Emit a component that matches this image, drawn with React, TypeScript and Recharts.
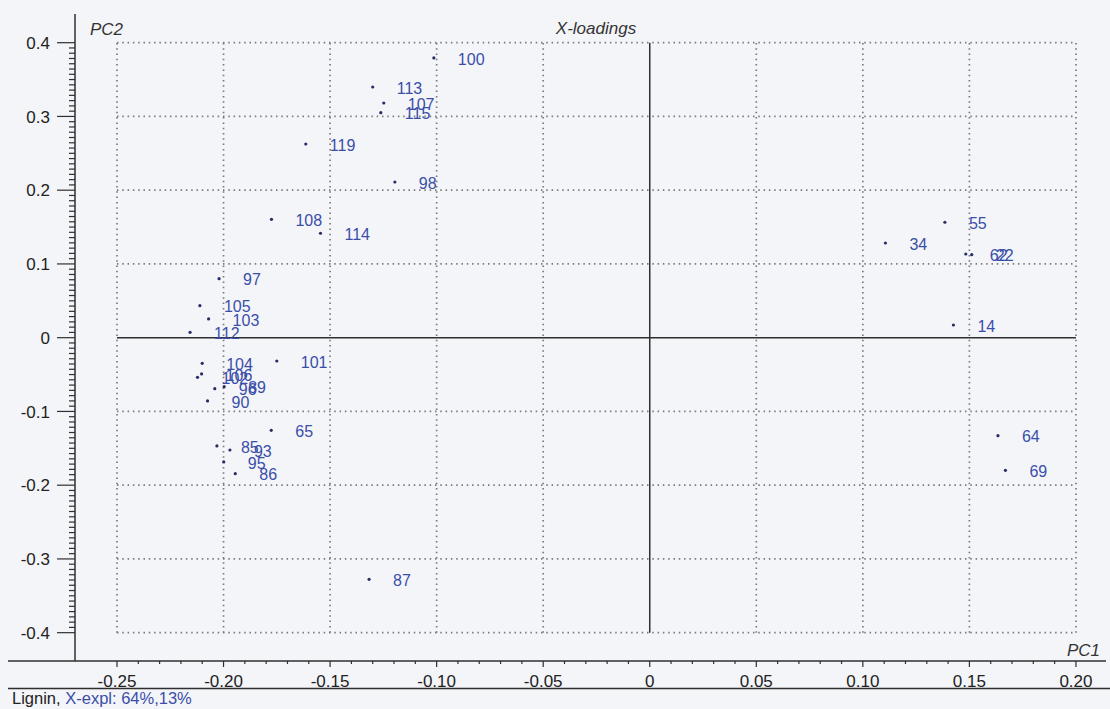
import React from 'react';
import { ScatterChart, Scatter, XAxis, YAxis, ReferenceLine } from 'recharts';

const pointLabels = ['100', '113', '107', '115', '119', '98', '108', '114', '97', '105', '103', '112', '104', '101', '106', '102', '96', '89', '90', '65', '85', '93', '95', '86', '87', '55', '34', '62', '22', '14', '64', '69'];
const pc1Values = [-0.1013, -0.13, -0.1248, -0.1262, -0.1614, -0.1196, -0.1775, -0.1545, -0.2021, -0.2111, -0.207, -0.2157, -0.21, -0.175, -0.2103, -0.2122, -0.2041, -0.1997, -0.2075, -0.1776, -0.2031, -0.197, -0.1999, -0.1945, -0.1317, 0.1385, 0.1106, 0.1483, 0.1511, 0.1425, 0.1634, 0.1669];
const pc2Values = [0.3793, 0.3399, 0.3182, 0.3051, 0.2626, 0.2111, 0.1605, 0.1416, 0.08, 0.0434, 0.0254, 0.0073, -0.0347, -0.0316, -0.0492, -0.0537, -0.0692, -0.0664, -0.0858, -0.1256, -0.1468, -0.1523, -0.1685, -0.1844, -0.3276, 0.1565, 0.1284, 0.1135, 0.1125, 0.0172, -0.1329, -0.1798];

const xTickValues = [-0.25, -0.2, -0.15, -0.1, -0.05, 0, 0.05, 0.1, 0.15, 0.2];
const xTickLabels = ['-0.25', '-0.20', '-0.15', '-0.10', '-0.05', '0', '0.05', '0.10', '0.15', '0.20'];
const yTickValues = [0.4, 0.3, 0.2, 0.1, 0, -0.1, -0.2, -0.3, -0.4];
const yTickLabels = ['0.4', '0.3', '0.2', '0.1', '0', '-0.1', '-0.2', '-0.3', '-0.4'];

const X_DOMAIN: [number, number] = [-0.2697, 0.2141];
const Y_DOMAIN: [number, number] = [-0.4384, 0.4389];

const xMinorTicks: number[] = [];
for (let i = -25; i <= 20; i++) xMinorTicks.push(i / 100);
const yMinorTicks: number[] = [];
for (let k = -56; k <= 56; k++) yMinorTicks.push(k / 140);

const data = pointLabels.map((label, i) => ({ label, pc1: pc1Values[i], pc2: pc2Values[i] }));

const FONT = "'Liberation Sans', Arial, Helvetica, sans-serif";
const LABEL_BLUE = '#3a4ea8';
const AXIS = '#2f2f2f';
const BG = '#f4f5f9';

const findIdx = (arr: number[], v: number) => arr.findIndex((t) => Math.abs(t - v) < 1e-9);

const XTick = (props: any) => {
  const { x, y, payload } = props;
  const idx = findIdx(xTickValues, payload.value);
  const major = idx >= 0;
  return (
    <g>
      <line x1={x} x2={x} y1={y} y2={y + (major ? 6 : 3)} stroke={AXIS} strokeWidth={1.2} />
      {major && (
        <text x={x} y={y + 26} textAnchor="middle" fontSize={17} fill="#222" fontFamily={FONT}>
          {xTickLabels[idx]}
        </text>
      )}
    </g>
  );
};

const YTick = (props: any) => {
  const { x, y, payload } = props;
  const idx = findIdx(yTickValues, payload.value);
  const major = idx >= 0;
  return (
    <g>
      <line x1={x} x2={x - (major ? 18 : 6)} y1={y} y2={y} stroke={AXIS} strokeWidth={1.2} />
      {major && (
        <text x={50} y={y} dy="0.36em" textAnchor="end" fontSize={17} fill="#222" fontFamily={FONT}>
          {yTickLabels[idx]}
        </text>
      )}
    </g>
  );
};

const PointShape = (props: any) => {
  const { cx, cy, payload } = props;
  return (
    <g>
      <circle cx={cx} cy={cy} r={1.6} fill="#242d66" />
      <text x={cx + 24} y={cy + 1} dy="0.36em" fontSize={16} fill={LABEL_BLUE} fontFamily={FONT}>
        {payload.label}
      </text>
    </g>
  );
};

const dotted = { stroke: '#7a7a7a', strokeWidth: 1.7, strokeDasharray: '1.5 3.8' };

export default function App() {
  return (
    <div style={{ position: 'absolute', left: 0, top: 0, width: 1110, height: 709, background: BG }}>
      <ScatterChart width={1110} height={709} margin={{ top: 14, right: 4, bottom: 21, left: 8 }}>
        <XAxis
          type="number"
          dataKey="pc1"
          domain={X_DOMAIN}
          allowDataOverflow
          ticks={xMinorTicks}
          interval={0}
          tick={<XTick />}
          tickLine={false}
          tickSize={0}
          tickMargin={0}
          height={27}
          axisLine={{ stroke: AXIS, strokeWidth: 1.5 }}
        />
        <YAxis
          type="number"
          dataKey="pc2"
          domain={Y_DOMAIN}
          allowDataOverflow
          ticks={yMinorTicks}
          interval={0}
          tick={<YTick />}
          tickLine={false}
          tickSize={0}
          tickMargin={0}
          width={67}
          axisLine={{ stroke: AXIS, strokeWidth: 1.5 }}
        />
        {xTickValues.filter((v) => v !== 0).map((v) => (
          <ReferenceLine key={'vx' + v} segment={[{ x: v, y: -0.4 }, { x: v, y: 0.4 }]} {...dotted} />
        ))}
        {yTickValues.filter((v) => v !== 0).map((v) => (
          <ReferenceLine key={'hy' + v} segment={[{ x: -0.25, y: v }, { x: 0.2, y: v }]} {...dotted} />
        ))}
        <ReferenceLine segment={[{ x: 0, y: -0.4 }, { x: 0, y: 0.4 }]} stroke={AXIS} strokeWidth={1.5} />
        <ReferenceLine segment={[{ x: -0.25, y: 0 }, { x: 0.2, y: 0 }]} stroke={AXIS} strokeWidth={1.5} />
        <Scatter data={data} isAnimationActive={false} shape={<PointShape />} />
      </ScatterChart>
      <svg
        width={1110}
        height={709}
        style={{ position: 'absolute', left: 0, top: 0, pointerEvents: 'none' }}
      >
        <line x1={8} x2={75} y1={661} y2={661} stroke={AXIS} strokeWidth={1.5} />
        <line x1={8} x2={1110} y1={688.5} y2={688.5} stroke={AXIS} strokeWidth={1.5} />
        <text x={596} y={34} textAnchor="middle" fontSize={17} fontStyle="italic" fill="#333" fontFamily={FONT}>
          X-loadings
        </text>
        <text x={90} y={35} fontSize={17} fontStyle="italic" fill="#333" fontFamily={FONT}>
          PC2
        </text>
        <text x={1100} y={656} textAnchor="end" fontSize={17} fontStyle="italic" fill="#333" fontFamily={FONT}>
          PC1
        </text>
        <text x={12} y={704} fontSize={16.5} fontFamily={FONT}>
          <tspan fill="#222">Lignin, </tspan>
          <tspan fill={LABEL_BLUE}>X-expl: 64%,13%</tspan>
        </text>
      </svg>
    </div>
  );
}
